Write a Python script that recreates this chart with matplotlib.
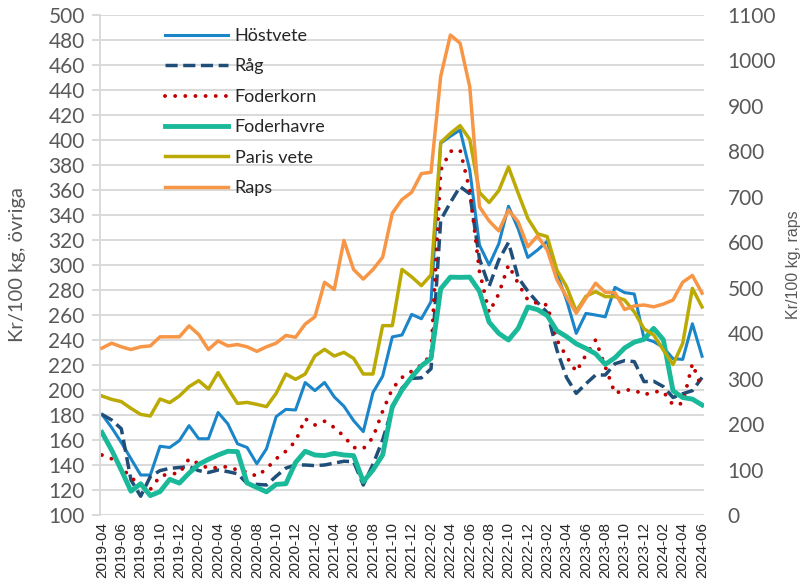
import matplotlib
matplotlib.use('Agg')
import matplotlib.pyplot as plt

plt.rcParams['font.family'] = ['Lato', 'DejaVu Sans']

# monthly prices 2019-04 .. 2024-06
start_year, start_month = 2019, 4
n_months = 63
months = []
for k in range(n_months):
    m = start_month - 1 + k
    months.append(f"{start_year + m // 12}-{m % 12 + 1:02d}")

hostvete = [180.5, 170, 158, 145, 132, 132, 155, 154, 159.5, 171.5,
            161, 161, 182, 173, 157, 154, 141, 153, 178.7, 184.5,
            184, 206, 199.5, 206, 194.5, 187, 175.5, 166.7, 198, 211,
            242.5, 244, 260.5, 257, 270.7, 397.5, 403, 408, 376, 316,
            300, 317, 347, 329, 306, 312, 319, 293, 272, 245.3,
            261.3, 260, 258.5, 282.1, 277.9, 276.8, 241.3, 238.7, 234, 225,
            224.5, 253, 227]
rag = [180.5, 176, 169, 128, 115, 130.7, 135.5, 137.3, 138, 138.7,
       135.5, 134, 136, 134.7, 133, 125.3, 124.5, 124, 131, 137.5,
       140, 140, 139.5, 140, 141.5, 143, 142.7, 124, 140.5, 160,
       185.5, 201.5, 209.3, 209.7, 217, 336, 350, 362.7, 357, 305,
       283, 304, 318, 290, 279, 270, 262, 232, 210, 197.3,
       205, 212, 212, 221, 223.5, 222.7, 206.7, 207, 202.7, 194,
       197, 199.5, 210]
foderkorn = [148, 145, 138, 130, 124, 120.5, 131, 133, 133.3, 145,
             141, 137.3, 138, 138.7, 136, 134.5, 131, 137, 145, 151,
             159, 177, 172, 175, 170, 163, 154, 153, 162, 183,
             201, 210, 215, 220, 228, 376, 391, 392, 360, 295,
             262, 277, 300, 285.3, 272, 269.3, 268, 240, 226.7, 214.7,
             228, 240, 218.7, 197.3, 200, 200, 196, 198.7, 198.7, 188,
             189.3, 221, 201]
foderhavre = [166, 152, 136, 119, 125, 115.5, 118.7, 128.5, 125.5, 133.5,
              140.5, 144.5, 148, 151, 150.7, 125.6, 122, 118.5, 124.5, 125,
              142, 151, 148, 147.5, 149.3, 148, 147.5, 126.7, 136, 148,
              186.7, 200, 210.4, 219.3, 225.3, 281, 290.3, 290.1, 290.3, 279,
              254.3, 245.3, 240, 249.3, 266.4, 264.3, 259.6, 247.4, 242.7, 237,
              233.3, 229, 220.5, 225.8, 233.6, 238.3, 240.5, 249.3, 240.2, 199.3,
              194, 192.7, 188]
paris_vete = [195.2, 192.5, 190.7, 185.3, 180.5, 179.2, 192.8, 189.9, 195.2, 202.7,
              207.5, 200.8, 213.9, 201.3, 189.3, 190.1, 188.5, 186.7, 197.3, 212.8,
              208.5, 212.8, 227.2, 232.5, 227.2, 230.1, 225.3, 212.8, 212.8, 251.5,
              251.5, 296.5, 290.5, 283.5, 292, 398, 405.3, 411.5, 400.5, 358,
              350, 359.5, 378.4, 357.5, 337.3, 325, 322.7, 296, 282.7, 263,
              275, 278.7, 274.7, 274.7, 272, 262.5, 249, 244, 232, 220.4,
              237.3, 281.3, 266.4]
raps = [367, 378, 370, 364, 370, 372, 392, 392, 392, 416,
        397, 364, 383, 372, 375, 370, 360, 370, 378, 395,
        391, 420, 436, 512, 496, 604, 540, 519, 540, 567,
        664, 694, 710, 751, 754, 965, 1056, 1038, 942, 678,
        647, 625, 671, 645, 590, 614, 583, 518, 480, 444,
        477, 510, 490, 489, 452, 460, 462, 458, 464, 473,
        512, 527, 488]

x = list(range(n_months))

fig = plt.figure(figsize=(8.05, 5.85), dpi=100)
ax = fig.add_axes([100 / 805, 1 - 515 / 585, 604 / 805, 500 / 585])
ax2 = ax.twinx()

grid_col = '#D9D9D9'
txt_col = '#595959'

l1, = ax.plot(x, hostvete, color='#1A85C8', lw=2.2, label='Höstvete')
l2, = ax.plot(x, rag, color='#1F4E79', lw=2.5, ls=(0, (3.5, 1.6)), label='Råg')
l3, = ax.plot(x, foderkorn, color='#C00000', lw=2.8, ls=(0, (0.01, 2.6)),
              dash_capstyle='round', label='Foderkorn')
l4, = ax.plot(x, foderhavre, color='#19B99A', lw=3.5, label='Foderhavre')
l5, = ax.plot(x, paris_vete, color='#BCAA04', lw=2.5, label='Paris vete')
l6, = ax2.plot(x, raps, color='#F79646', lw=2.5, label='Raps')

ax.set_xlim(-0.2, 62.2)
ax.set_ylim(100, 500)
ax.set_yticks(range(100, 501, 20))
ax2.set_ylim(0, 1100)
ax2.set_yticks(range(0, 1101, 100))

ax.grid(axis='y', color=grid_col, lw=1.4)
ax.set_axisbelow(True)
for s in ['top', 'right', 'bottom']:
    ax.spines[s].set_visible(False)
for s in ax2.spines.values():
    s.set_visible(False)
ax.spines['left'].set_color(grid_col)
ax.spines['left'].set_linewidth(1.4)

ax.tick_params(axis='y', labelsize=15, labelcolor=txt_col, color=grid_col,
               length=6, width=1.4, pad=5)
ax2.tick_params(axis='y', labelsize=15, labelcolor=txt_col, length=0, pad=17)

ax.set_xticks(x[::2])
ax.set_xticklabels(months[::2], rotation=90, fontsize=11,
                   family='Liberation Sans', color='#262626')
ax.tick_params(axis='x', length=0, pad=5)

ax.set_ylabel('Kr/100 kg, övriga', fontsize=14.5, color=txt_col)
ax.yaxis.set_label_coords(-0.122, 0.5)
ax2.set_ylabel('Kr/100 kg, raps', fontsize=11.5, color=txt_col,
               family='Liberation Sans')
ax2.yaxis.set_label_coords(1.135, 0.5)

fig.legend(handles=[l1, l2, l3, l4, l5, l6], loc='upper left',
           bbox_to_anchor=(165 / 805, 1 - 28 / 585), frameon=False,
           fontsize=13, handlelength=3.5, handletextpad=0.35,
           labelspacing=0.8, borderpad=0, borderaxespad=0,
           labelcolor='#262626')

fig.savefig('out.png', dpi=100)
plt.close(fig)
